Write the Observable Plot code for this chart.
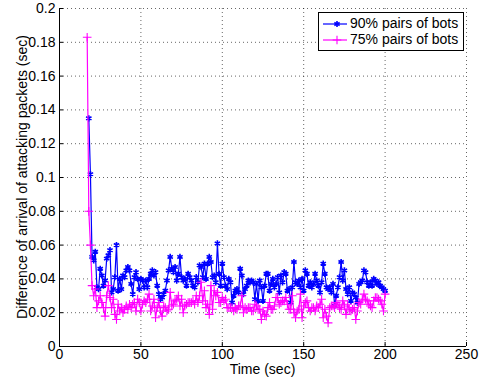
<!DOCTYPE html>
<html>
<head>
<meta charset="utf-8">
<script src="https://cdn.jsdelivr.net/npm/d3@7"></script>
<script src="https://cdn.jsdelivr.net/npm/@observablehq/plot@0.6"></script>
<style>
  html, body { margin: 0; padding: 0; background: #fff; }
  #chart { width: 484px; height: 379px; }
</style>
</head>
<body>
<div id="chart"></div>
<script>
// ---- data ----
const xTicks = [0, 50, 100, 150, 200, 250];
const yTicks = [0, 0.02, 0.04, 0.06, 0.08, 0.1, 0.12, 0.14, 0.16, 0.18, 0.2];
const seriesNames = ["90% pairs of bots", "75% pairs of bots"];
const seriesColors = ["#0000ff", "#ff00ff"];
const xLabel = "Time (sec)";
const yLabel = "Difference of arrival of attacking packets (sec)";

const start90 = 18; // first time sample (sec), one sample per second
const bots90 = [
  0.135,0.102,
  0.053,0.051,0.056,0.035,0.034,0.046,0.042,0.036,0.039,0.052,
  0.054,0.057,0.032,0.034,0.041,0.060,0.033,0.040,0.034,0.042,
  0.041,0.045,0.047,0.045,0.037,0.031,0.041,0.044,0.040,0.034,
  0.040,
  0.039,0.035,
  0.039,0.035,0.040,0.043,0.045,0.042,0.044,0.036,0.031,0.028,0.029,0.031,0.033,0.039,0.045,0.053,0.046,0.044,0.047,0.039,0.043,0.053,0.041,0.039,0.040,0.036,0.043,0.041,0.039,0.036,0.035,0.041,0.038,0.048,0.047,0.041,0.049,0.040,0.049,0.053,0.050,0.041,
  0.042,0.038,
  0.061,0.043,0.036,0.049,0.041,0.036,0.034,0.040,0.038,0.026,0.030,0.033,0.034,0.032,0.046,0.042,0.031,0.034,0.036,0.039,0.038,0.039,0.038,0.028,0.037,0.027,0.039,0.035,0.027,0.036,0.043,0.043,0.033,0.037,0.040,0.035,0.037,0.041,0.032,0.042,0.038,0.044,0.043,0.033,0.034,0.026,0.035,0.050,
  0.038,0.037,0.039,0.035,0.040,0.033,0.045,0.043,0.036,0.038,0.035,0.037,0.043,0.039,0.036,0.032,0.038,0.049,0.043,0.035,0.034,0.035,0.032,0.037,0.024,0.030,0.035,0.041,0.050,0.039,0.045,0.034,0.031,0.035,0.027,0.032,0.031,0.029,0.026,0.037,0.038,0.039,0.045,0.044,0.038,0.036,0.038,0.036,0.040,0.039,0.037,0.038,0.036,0.035,0.034,0.033
];

const start75 = 17;
const bots75 = [
  0.183,0.080,0.060,0.036,
  0.030,0.034,0.023,0.027,0.030,0.026,0.023,0.018,0.030,0.036,
  0.029,0.023,0.028,0.019,0.016,0.025,0.021,0.023,0.020,0.022,
  0.024,0.022,0.025,0.023,0.025,0.026,0.021,0.028,0.026,0.021,
  0.025,0.027,0.026,0.028,0.031,0.021,0.024,0.028,0.017,0.023,
  0.026,0.021,0.018,0.024,0.023,0.021,0.022,0.032,0.024,0.025,
  0.027,0.028,0.030,0.024,0.028,0.020,0.024,0.025,0.026,0.026,
  0.026,0.027,0.025,0.030,0.026,0.030,0.038,0.027,0.033,0.023,
  0.025,0.019,0.036,0.022,0.033,0.030,0.032,0.026,0.026,0.029,
  0.027,0.028,0.023,0.023,0.023,0.023,0.021,0.023,0.022,0.024,
  0.024,0.030,0.020,0.023,0.022,0.023,0.023,0.021,0.021,0.025,
  0.024,0.022,0.022,0.016,0.021,0.019,0.018,0.023,0.026,0.022,
  0.022,0.024,0.029,0.029,0.025,0.026,0.027,0.027,0.029,0.025,
  0.022,0.022,0.030,0.020,0.017,0.021,0.022,0.031,0.017,0.024,
  0.026,0.027,0.023,0.021,0.023,0.023,0.021,0.024,0.023,0.025,
  0.028,0.017,0.022,0.018,0.014,0.023,0.024,0.024,0.023,0.026,
  0.025,0.023,0.022,0.027,0.024,0.019,0.025,0.022,0.021,0.022,
  0.023,0.016,0.021,0.026,0.025,0.028,0.031,0.028,0.027,0.025,
  0.024,0.023,0.027,0.029,0.029,0.028,0.027,0.025,0.021,0.031
];

// ---- tables ----
const d90 = bots90.map((v, i) => ({t: start90 + i, v}));
const d75 = bots75.map((v, i) => ({t: start75 + i, v}));

const fontFamily = '"Liberation Sans", Arial, Helvetica, sans-serif';
const W = 484, H = 379;
const mL = 59, mR = 18, mT = 8, mB = 33;
const markerR = 2.9;

const gridStyle = {stroke: "#000", strokeOpacity: 0.6, strokeDasharray: "1,3", strokeWidth: 1};

const plot = Plot.plot({
  width: W, height: H,
  marginLeft: mL, marginRight: mR, marginTop: mT, marginBottom: mB,
  style: {fontFamily, fontSize: "14px", background: "white", color: "black", overflow: "visible"},
  x: {domain: [0, 250]},
  y: {domain: [0, 0.2]},
  marks: [
    Plot.gridX(xTicks, gridStyle),
    Plot.gridY(yTicks, gridStyle),
    Plot.axisX(xTicks, {tickSize: -4, tickPadding: 7, label: null, tickFormat: d => String(d)}),
    Plot.axisY(yTicks, {tickSize: -4, tickPadding: 8, label: null, tickFormat: d => String(d)}),
    Plot.ruleX([0], {stroke: "#000", strokeWidth: 1}),
    Plot.ruleY([0], {stroke: "#000", strokeWidth: 1}),
    Plot.line(d90, {x: "t", y: "v", stroke: seriesColors[0], strokeWidth: 1.2}),
    Plot.dot(d90, {x: "t", y: "v", symbol: "asterisk", stroke: seriesColors[0], r: markerR, strokeWidth: 1.6}),
    Plot.line(d75, {x: "t", y: "v", stroke: seriesColors[1], strokeWidth: 1.2}),
    Plot.dot(d75, {x: "t", y: "v", symbol: "plus", stroke: seriesColors[1], r: markerR, strokeWidth: 1.1})
  ]
});

// axis titles and legend
const svg = d3.select(plot);
const ann = svg.append("g").attr("font-family", fontFamily).attr("font-size", 14).attr("fill", "black");
ann.append("text")
  .attr("x", (mL + (W - mR)) / 2).attr("y", 370)
  .attr("text-anchor", "middle").attr("dominant-baseline", "middle")
  .text(xLabel);
ann.append("text")
  .attr("transform", `translate(23,${(mT + (H - mB)) / 2}) rotate(-90)`)
  .attr("text-anchor", "middle").attr("dominant-baseline", "middle")
  .text(yLabel);

const lg = ann.append("g");
lg.append("rect").attr("x", 318.5).attr("y", 12.5).attr("width", 145).attr("height", 38)
  .attr("fill", "white").attr("stroke", "black").attr("stroke-width", 1);
const symbols = [d3.symbolAsterisk, d3.symbolPlus];
const symbolWidths = [1.6, 1.1];
seriesNames.forEach((name, i) => {
  const yy = 24 + i * 16;
  lg.append("line").attr("x1", 323).attr("x2", 347).attr("y1", yy).attr("y2", yy)
    .attr("stroke", seriesColors[i]).attr("stroke-width", 1.2);
  lg.append("path").attr("d", d3.symbol(symbols[i], markerR * markerR * Math.PI)())
    .attr("transform", `translate(337,${yy})`)
    .attr("fill", "none").attr("stroke", seriesColors[i]).attr("stroke-width", symbolWidths[i]);
  lg.append("text").attr("x", 350).attr("y", yy)
    .attr("text-anchor", "start").attr("dominant-baseline", "middle").text(name);
});

document.getElementById("chart").appendChild(plot);
</script>
</body>
</html>
